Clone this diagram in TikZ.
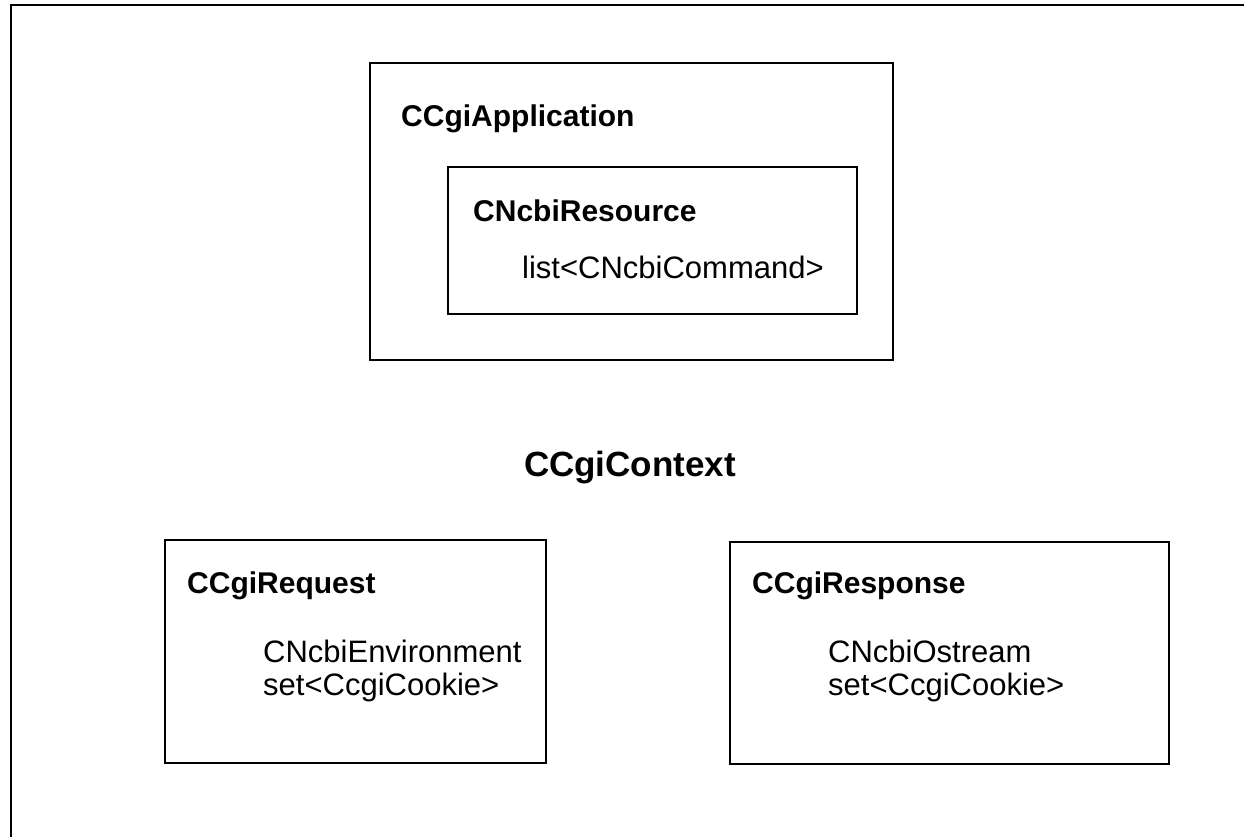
\documentclass[tikz,border=0pt]{standalone}
\usepackage{fontspec}
\setmainfont{Liberation Sans}
\begin{document}
\begin{tikzpicture}[x=1pt,y=-1pt,
  box/.style={draw=black,line width=2pt},
  title/.style={anchor=base west,inner sep=0pt,font=\fontsize{30}{30}\selectfont\bfseries},
  body/.style={anchor=base west,inner sep=0pt,font=\fontsize{31}{31}\selectfont},
  ctx/.style={anchor=base,inner sep=0pt,font=\fontsize{35}{35}\selectfont\bfseries}]
\useasboundingbox (0,0) rectangle (1244,837);
\clip (0,0) rectangle (1244,837);
\fill[white] (0,0) rectangle (1244,837);
% outer frame (right and bottom lie outside the picture)
\draw[box] (11,5) rectangle (1270,870);
% CCgiApplication
\draw[box] (370,63) rectangle (893,360);
\node[title] (app) at (401,127) {CCgiApplication};
\draw[box] (448,167) rectangle (857,314);
\node[title] (res) at (473,222) {CNcbiResource};
\node[body] (cmd) at (522,278) {list<CNcbiCommand>};
% context
\node[ctx] (ctx) at (630,476) {CCgiContext};
% request
\draw[box] (165,540) rectangle (546,763);
\node[title] (req) at (187,593) {CCgiRequest};
\node[body] (env) at (263,662) {CNcbiEnvironment};
\node[body] (rqc) at (263,695) {set<CcgiCookie>};
% response
\draw[box] (730,542) rectangle (1169,764);
\node[title] (rsp) at (752,593) {CCgiResponse};
\node[body] (ost) at (828,662) {CNcbiOstream};
\node[body] (rsc) at (828,695) {set<CcgiCookie>};
\end{tikzpicture}
\end{document}
